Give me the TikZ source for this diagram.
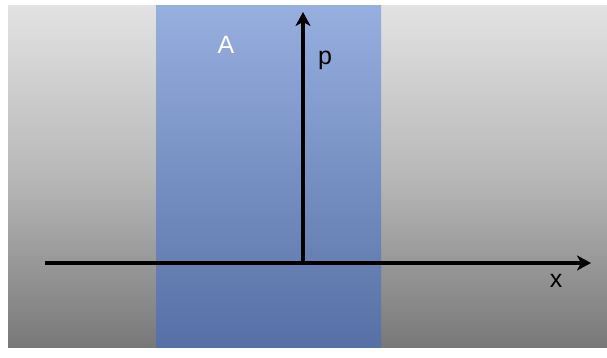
\documentclass[tikz,border=0pt]{standalone}
\usepackage{fontspec}
\setmainfont{Liberation Sans}
\usetikzlibrary{arrows.meta}
\definecolor{wall}{HTML}{e2e2e2}
\definecolor{floor}{HTML}{787878}
\definecolor{bandtop}{HTML}{97afdf}
\definecolor{bandbot}{HTML}{5670a5}

\begin{document}
\begin{tikzpicture}[x=1pt,y=1pt,
  axis/.style={line width=3.6pt,-{Stealth[length=14pt,width=15pt,inset=4pt]}},
  lbl/.style={font=\fontsize{25}{25}\selectfont,inner sep=0pt}]
  % page and backdrop
  \fill[white] (0,0) rectangle (607,358);
  \useasboundingbox (0,0) rectangle (607,358);
  \shade[top color=wall,bottom color=floor,middle color=wall!60!floor] (8,10) rectangle (607,352);
  % region A
  \shade[top color=bandtop,bottom color=bandbot] (156,10) rectangle (381,352);
  % axes
  \coordinate (o) at (303,95);
  \coordinate (xstart) at (45,95);
  \coordinate (xend) at (591,95);
  \coordinate (pend) at (303,346);
  \draw[line width=3.6pt] (xstart) -- (o);
  \draw[axis] (o) -- (xend);
  \draw[axis] (o) -- (pend);
  % labels
  \node[lbl,white] (labA) at (226,313) {A};
  \node[lbl] (labp) at (325,298) {p};
  \node[lbl] (labx) at (556,77) {x};
\end{tikzpicture}
\end{document}
